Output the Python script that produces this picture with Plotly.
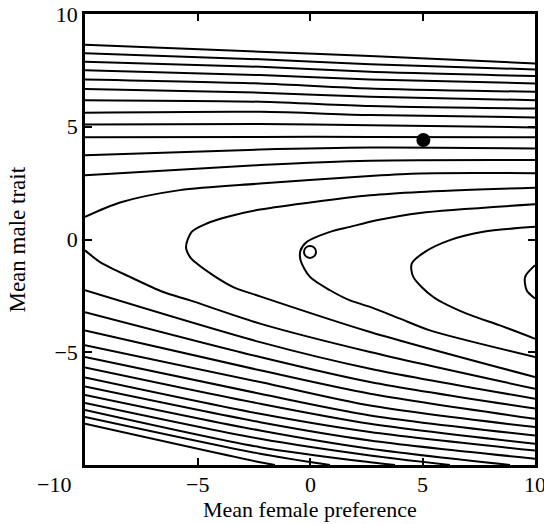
import plotly.graph_objects as go

# ---- data (data units) ----
TOP_X = [-10.0, -2.22, 2.67, 10.0]
TOP_Y = [
    [8.64, 8.33, 8.14, 7.81],
    [8.26, 7.99, 7.77, 7.54],
    [7.88, 7.66, 7.44, 7.25],
    [7.51, 7.29, 7.10, 6.92],
    [7.10, 6.92, 6.70, 6.55],
    [6.67, 6.51, 6.33, 6.18],
    [6.18, 6.11, 5.92, 5.81],
    [5.62, 5.66, 5.52, 5.41],
    [5.10, 5.12, 5.07, 4.97],
    [4.53, 4.55, 4.55, 4.53],
    [3.74, 3.99, 4.08, 4.04],
    [2.85, 3.30, 3.49, 3.52],
]

A_UP_X = [-10.0, -8.44, -5.78, -2.22, 2.67, 4.89, 10.0]
A_UP_Y = [1.00, 1.64, 2.19, 2.48, 2.82, 2.93, 2.94]

A_LO_X = [-10.0, -9.33, -8.0, -6.52, -5.33, -2.22, 2.67, 10.0]
A_LO_Y = [-0.48, -1.00, -1.66, -2.33, -2.70, -3.73, -4.99, -6.62]

B_X = [10.0, 4.89, 2.67, -2.22, -3.70, -4.59, -5.26, -5.51, -5.33, -5.11, -4.30, -3.41, -2.22, 2.67, 10.0]
B_Y = [2.30, 2.11, 1.96, 1.33, 1.00, 0.71, 0.34, -0.33, -0.78, -1.00, -1.59, -2.11, -2.52, -4.10, -6.10]

B2_X = [10.0, 4.89, 2.96, 1.78, 0.89, -0.15, -0.42, -0.42, 0.0, 0.89, 1.78, 2.67, 4.0, 5.33, 10.0]
B2_Y = [1.56, 1.18, 0.85, 0.56, 0.34, -0.11, -0.48, -0.92, -1.66, -2.25, -2.70, -2.99, -3.51, -4.03, -5.21]

C_X = [10.0, 7.70, 6.22, 5.11, 4.52, 4.59, 5.48, 6.96, 8.44, 10.0]
C_Y = [0.56, 0.34, -0.03, -0.55, -1.07, -1.66, -2.55, -3.29, -3.81, -4.40]

D_X = [10.0, 9.56, 9.63, 10.0]
D_Y = [-1.14, -1.66, -2.25, -2.62]

LOW_X = [-10.0, -2.22, 2.67, 10.0]
LOW_Y = [
    [-2.25, -4.55, -5.73, -7.06],
    [-3.22, -5.21, -6.32, -7.50],
    [-4.03, -5.80, -6.84, -7.95],
    [-4.69, -6.32, -7.36, -8.32],
    [-5.21, -6.84, -7.80, -8.69],
    [-5.67, -7.28, -8.17, -9.06],
    [-6.12, -7.73, -8.54, -9.36],
    [-6.52, -8.10, -8.91, -9.72],
]
# lower lines that run into the bottom axis
BOT_X = [
    [-10.0, -2.22, 2.67, 8.89],
    [-10.0, -2.22, 2.67, 6.22],
    [-10.0, -2.22, 2.67, 3.78],
    [-10.0, -2.22, 0.89],
    [-10.0, -2.22, -1.56],
]
BOT_Y = [
    [-6.89, -8.47, -9.28, -10.0],
    [-7.25, -8.84, -9.58, -10.0],
    [-7.56, -9.21, -9.88, -10.0],
    [-7.87, -9.50, -10.0],
    [-8.17, -9.88, -10.0],
]

FILLED_PT = (5.04, 4.41)
OPEN_PT = (0.0, -0.55)

X_TICKS = [-10, -5, 0, 5, 10]
X_TICK_TEXT = ["\u221210", "\u22125", "0", "5", "10"]
Y_TICKS = [-5, 0, 5, 10]
Y_TICK_TEXT = ["\u22125", "0", "5", "10"]

FONT = "Liberation Serif, Times New Roman, serif"

fig = go.Figure()

line_style = dict(color="black", width=2, shape="spline", smoothing=0.8)


def add_line(xs, ys):
    fig.add_trace(go.Scatter(x=xs, y=ys, mode="lines", line=line_style,
                             hoverinfo="skip", showlegend=False))


for ys in TOP_Y:
    add_line(TOP_X, ys)
add_line(A_UP_X, A_UP_Y)
add_line(A_LO_X, A_LO_Y)
add_line(B_X, B_Y)
add_line(B2_X, B2_Y)
add_line(C_X, C_Y)
add_line(D_X, D_Y)
for ys in LOW_Y:
    add_line(LOW_X, ys)
for xs, ys in zip(BOT_X, BOT_Y):
    add_line(xs, ys)

fig.add_trace(go.Scatter(x=[FILLED_PT[0]], y=[FILLED_PT[1]], mode="markers",
                         marker=dict(size=14, color="black"), showlegend=False))
fig.add_trace(go.Scatter(x=[OPEN_PT[0]], y=[OPEN_PT[1]], mode="markers",
                         marker=dict(size=12, color="white", line=dict(color="black", width=2)),
                         showlegend=False))

axis_common = dict(showline=True, linecolor="black", linewidth=2.5, mirror="ticks",
                   ticks="inside", ticklen=7, tickwidth=2, tickcolor="black",
                   showgrid=False, zeroline=False, range=[-10, 10], fixedrange=True,
                   automargin=False)

fig.update_xaxes(**axis_common, tickvals=[-5, 0, 5], showticklabels=False)
fig.update_yaxes(**axis_common, tickvals=Y_TICKS, ticktext=Y_TICK_TEXT,
                 tickfont=dict(family=FONT, size=22, color="black"))

# x tick labels
for v, t in zip(X_TICKS, X_TICK_TEXT):
    if v == -10:
        fig.add_annotation(x=v, y=0, xref="x", yref="paper", text=t, showarrow=False,
                           xanchor="right", yanchor="middle", xshift=-12, yshift=-19,
                           font=dict(family=FONT, size=22, color="black"))
    else:
        fig.add_annotation(x=v, y=0, xref="x", yref="paper", text=t, showarrow=False,
                           xanchor="center", yanchor="middle", yshift=-19,
                           font=dict(family=FONT, size=22, color="black"))

fig.add_annotation(x=0.5, y=0, xref="paper", yref="paper", text="Mean female preference",
                   showarrow=False, xanchor="center", yanchor="middle", yshift=-44,
                   font=dict(family=FONT, size=22, color="black"))
fig.add_annotation(x=-0.151, y=0.5, xref="paper", yref="paper", text="Mean male trait",
                   showarrow=False, xanchor="center", yanchor="middle", textangle=-90,
                   font=dict(family=FONT, size=23, color="black"))

fig.update_layout(width=544, height=524, margin=dict(l=85, r=9, t=14, b=59, autoexpand=False),
                  plot_bgcolor="white", paper_bgcolor="white", showlegend=False)

fig.write_html("out.html", config={"displayModeBar": False},
               post_script="document.body.style.margin='0px';document.body.style.overflow='hidden';")
